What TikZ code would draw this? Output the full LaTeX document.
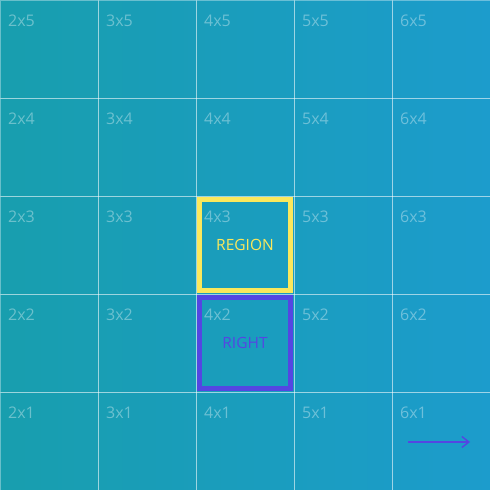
\documentclass[tikz,border=0pt]{standalone}
\usepackage{fontspec}
\setsansfont{Open Sans}
\usepackage{xcolor}
\usetikzlibrary{arrows.meta,positioning,calc}
\definecolor{bgleft}{RGB}{24,158,174}
\definecolor{bgright}{RGB}{28,156,204}
\definecolor{regionyellow}{RGB}{250,232,92}
\definecolor{rightblue}{RGB}{84,70,226}

\begin{document}
\begin{tikzpicture}[
    x=1pt, y=1pt,
    cell/.style={draw=white, draw opacity=0.35, line width=0.9pt, minimum size=98pt, inner sep=0pt, outer sep=0pt, anchor=south west},
    celllabel/.style={font=\sffamily\fontsize{16}{16}\selectfont, text=white, text opacity=0.36, anchor=base west, inner sep=0pt},
    marker/.style={line width=5.2pt, minimum size=91pt, inner sep=0pt, font=\sffamily\fontsize{15.5}{15.5}\selectfont},
    arrow/.style={-{Straight Barb[length=7pt,width=11pt]}, line width=1.4pt, rightblue}
]
    % Background
    \useasboundingbox (0,0) rectangle (490,490);
    \shade[left color=bgleft, right color=bgright] (0,0) rectangle (490,490);

    % Grid cells with labels
    \foreach \i in {2,...,6} {
        \foreach \j in {1,...,5} {
            \node[cell] (c\i\j) at ({(\i-2)*98},{(\j-1)*98}) {};
            \node[celllabel] (l\i\j) at ($(c\i\j.north west)+(8,-27)$) {\i x\j};
        }
    }

    % Region and right markers
    \node[marker, draw=regionyellow, text=regionyellow] (region) at (c43) {REGION};
    \node[marker, draw=rightblue, text=rightblue] (right) at (c42) {RIGHT};

    % Direction arrow
    \coordinate (arrowtail) at ($(c61.south west)+(16,48)$);
    \coordinate (arrowhead) at ($(c61.south west)+(78,48)$);
    \draw[arrow] (arrowtail) -- (arrowhead);

\end{tikzpicture}
\end{document}
